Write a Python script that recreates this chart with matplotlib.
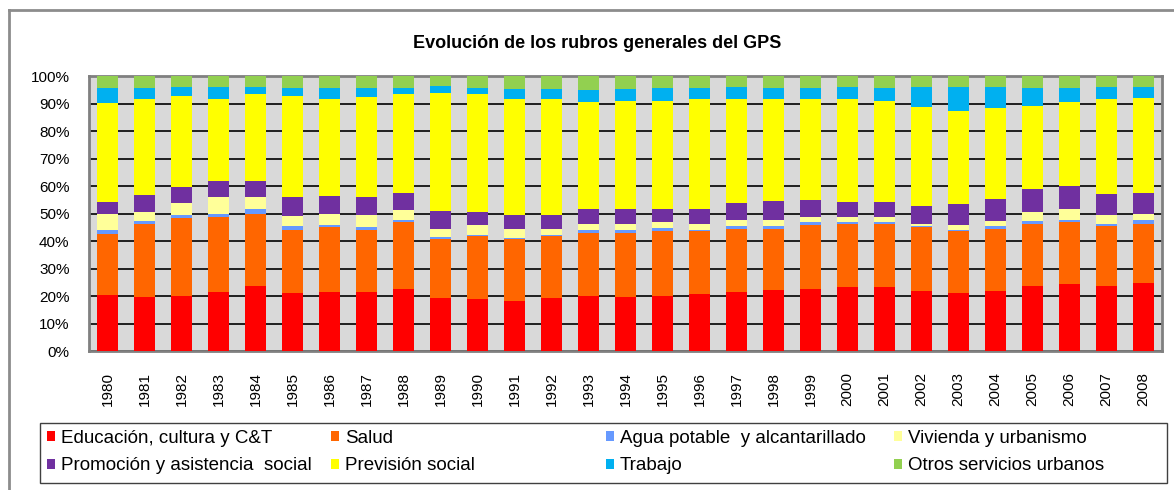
import matplotlib
matplotlib.use("Agg")
import matplotlib.pyplot as plt
import numpy as np
from matplotlib.patches import Patch, Rectangle
from matplotlib.lines import Line2D

plt.rcParams['font.family'] = ['Liberation Sans', 'DejaVu Sans']

years = [str(y) for y in range(1980, 2009)]

categories = ["Educación, cultura y C&T", "Salud", "Agua potable  y alcantarillado",
              "Vivienda y urbanismo", "Promoción y asistencia  social", "Previsión social",
              "Trabajo", "Otros servicios urbanos"]
colors = ["#FF0000", "#FF6600", "#6699FF", "#FFFF99", "#7030A0", "#FFFF00", "#00B0F0", "#92D050"]

# shares (%) per year
educacion = [20.5, 19.5, 20.0, 21.6, 23.8, 21.1, 21.6, 21.6, 22.4, 19.3, 18.8, 18.3, 19.3, 20.1, 19.6,
             20.1, 20.6, 21.6, 22.1, 22.4, 23.4, 23.4, 22.0, 21.0, 22.0, 23.8, 24.4, 23.8, 24.8]
salud = [22.2, 26.8, 28.3, 27.2, 26.2, 23.0, 23.4, 22.5, 24.6, 21.3, 22.9, 22.3, 22.4, 22.9, 23.4,
         23.4, 22.9, 22.9, 22.4, 23.5, 22.9, 22.9, 23.0, 22.5, 22.5, 22.5, 22.4, 21.7, 21.5]
agua = [1.2, 0.9, 1.2, 1.2, 1.5, 1.4, 0.9, 0.9, 0.8, 1.0, 0.5, 0.6, 0.5, 1.0, 1.0,
        1.4, 0.5, 1.0, 1.0, 0.9, 0.5, 0.5, 0.5, 0.5, 1.0, 1.0, 1.0, 0.8, 1.5]
vivienda = [5.9, 3.4, 4.4, 6.1, 4.6, 3.6, 4.1, 4.6, 3.5, 2.8, 3.7, 3.3, 2.3, 2.3, 2.3,
            1.9, 2.3, 2.2, 2.2, 1.9, 1.9, 1.9, 0.8, 1.9, 1.8, 3.3, 3.7, 3.3, 2.2]
promocion = [4.5, 6.1, 5.6, 5.7, 5.7, 6.8, 6.2, 6.3, 6.3, 6.6, 4.7, 4.8, 4.8, 5.3, 5.3,
             4.8, 5.3, 6.2, 6.7, 6.1, 5.6, 5.6, 6.6, 7.5, 7.9, 8.4, 8.4, 7.6, 7.6]
prevision = [35.8, 35.1, 33.4, 30.0, 31.6, 37.0, 35.3, 36.5, 35.7, 42.8, 42.7, 42.5, 42.5, 38.9, 39.4,
             39.4, 39.9, 37.9, 37.1, 36.7, 37.2, 36.7, 35.8, 33.9, 33.0, 30.1, 30.6, 34.3, 34.4]
trabajo = [5.5, 3.8, 3.2, 4.3, 2.7, 2.7, 4.1, 3.2, 2.3, 2.4, 2.3, 3.4, 3.4, 4.3, 4.2,
           4.6, 4.1, 4.3, 4.1, 4.1, 4.6, 4.6, 7.4, 8.8, 7.9, 6.5, 5.1, 4.6, 4.1]
otros = [4.4, 4.4, 3.9, 3.9, 3.9, 4.4, 4.4, 4.4, 4.4, 3.8, 4.4, 4.8, 4.8, 5.2, 4.8,
         4.4, 4.4, 3.9, 4.4, 4.4, 3.9, 4.4, 3.9, 3.9, 3.9, 4.4, 4.4, 3.9, 3.9]

series = np.array([educacion, salud, agua, vivienda, promocion, prevision, trabajo, otros])
shares = series / series.sum(axis=0) * 100

W, H = 1174, 490
fig = plt.figure(figsize=(W / 100, H / 100), dpi=100)
ax = fig.add_axes([89 / W, 1 - 351 / H, (1162 - 89) / W, (351 - 76) / H])
ax.set_facecolor("#D9D9D9")

x = np.arange(len(years))
bottom = np.zeros(len(years))
for vals, col, name in zip(shares, colors, categories):
    ax.bar(x, vals, 0.58, bottom=bottom, color=col, label=name, zorder=3)
    bottom += vals

ax.set_xlim(-0.5, len(years) - 0.5)
ax.set_ylim(0, 100)
ax.set_yticks(range(0, 101, 10))
ax.set_yticklabels([f"{v}%" for v in range(0, 101, 10)], fontsize=11)
ax.set_xticks(x)
ax.set_xticklabels(years, rotation=90, fontsize=11)
ax.tick_params(axis='y', length=0, pad=14)
ax.tick_params(axis='x', length=0, pad=15)
ax.yaxis.grid(True, color="black", linewidth=1.2, zorder=1)
ax.set_axisbelow(True)
for s in ax.spines.values():
    s.set_color("#808080")
    s.set_linewidth(2)

fig.text(597 / W, 1 - 43 / H, "Evolución de los rubros generales del GPS",
         ha="center", va="center", fontsize=13, fontweight="bold")

# outer chart frame (only left and top visible in the crop)
fig.add_artist(Line2D([8.5 / W, 8.5 / W], [0, 1 - 10 / H], transform=fig.transFigure,
                      color="#8C8C8C", linewidth=2))
fig.add_artist(Line2D([8.5 / W, 1], [1 - 10 / H, 1 - 10 / H], transform=fig.transFigure,
                      color="#8C8C8C", linewidth=2))

# legend box
fig.add_artist(Rectangle((40 / W, 1 - 483 / H), (1167 - 40) / W, (483 - 423) / H,
                         transform=fig.transFigure, facecolor="white", edgecolor="#404040",
                         linewidth=1))
col_x = [47, 331, 606, 894]
for c in range(4):
    idx = [c, c + 4]
    handles = [Patch(facecolor=colors[i], edgecolor="none") for i in idx]
    fig.legend(handles, [categories[i] for i in idx], loc="center left",
               bbox_to_anchor=(col_x[c] / W, 1 - 452 / H), frameon=False, fontsize=13.5,
               handlelength=0.45, handleheight=0.45, handletextpad=0.3,
               labelspacing=0.58, borderpad=0, borderaxespad=0)

fig.savefig("out.png", dpi=100)
